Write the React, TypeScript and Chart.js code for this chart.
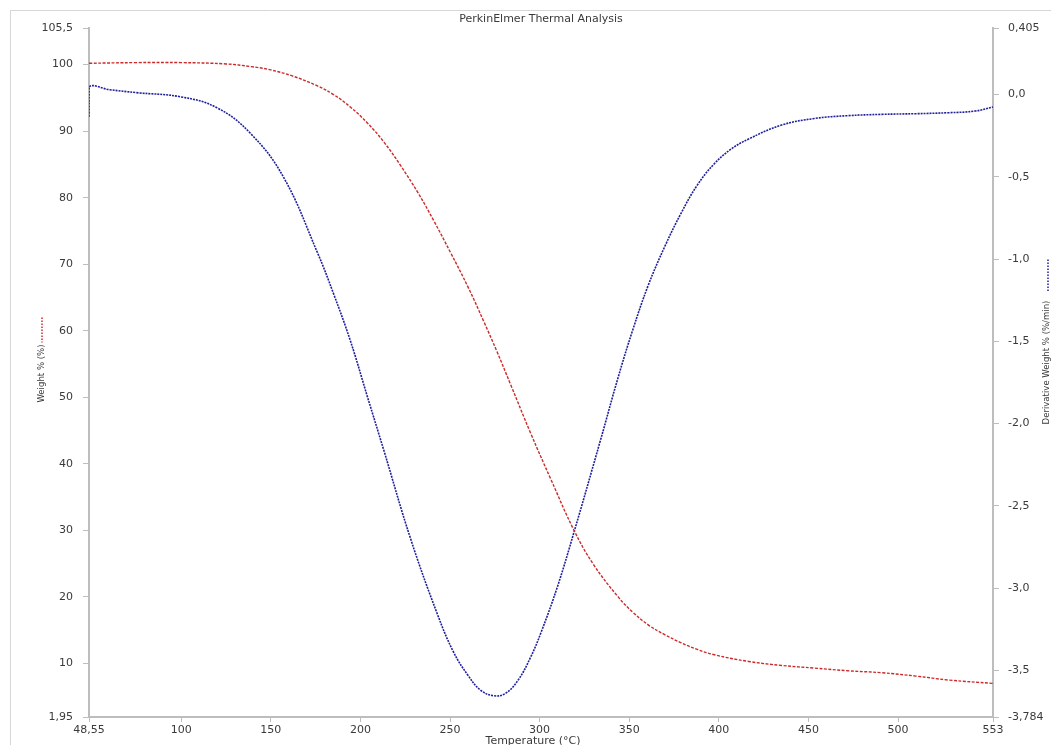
import React, { useEffect, useRef } from "react";
import { Chart, registerables } from "chart.js";

Chart.register(...registerables);

// ---- Data ----
const weightTemps = [48.55, 75, 100, 125, 139, 150, 162, 176, 185, 194.5, 204, 213, 222, 232, 241, 250.4, 260, 269, 276, 284, 295, 306.4, 319.2, 330, 343.8, 352, 360.6, 370, 379, 388, 397.5, 416.6, 435, 453.5, 472, 491, 510, 528.4, 553];
const weightValues = [100.2, 100.3, 100.3, 100.1, 99.7, 99.2, 98.3, 96.8, 95.5, 93.6, 91.2, 88.4, 85.0, 80.8, 76.5, 71.7, 66.6, 61.3, 57.0, 51.8, 44.6, 37.6, 30.0, 24.9, 20.0, 17.7, 15.8, 14.3, 13.1, 12.1, 11.3, 10.3, 9.7, 9.3, 8.9, 8.6, 8.1, 7.5, 7.0];

const derivTemps = [48.55, 48.6, 60, 75, 100, 120, 138.6, 157, 176, 185, 194.5, 204, 213, 228, 243, 252, 260, 267, 274.5, 281, 288, 295, 300.8, 310, 319.2, 334, 343.8, 352, 360.6, 370, 379, 388, 397.5, 407, 416.6, 435, 453.5, 472, 491, 510, 528.4, 543, 553];
const derivValues = [-0.135, 0.045, 0.03, 0.012, -0.014, -0.08, -0.235, -0.50, -0.96, -1.21, -1.50, -1.84, -2.16, -2.70, -3.16, -3.39, -3.53, -3.62, -3.655, -3.64, -3.56, -3.42, -3.27, -2.99, -2.66, -2.10, -1.72, -1.43, -1.16, -0.92, -0.72, -0.55, -0.42, -0.33, -0.27, -0.185, -0.145, -0.128, -0.12, -0.116, -0.11, -0.10, -0.075];

const xTicks = [48.55, 100, 150, 200, 250, 300, 350, 400, 450, 500, 553];
const yLeftTicks = [1.95, 10, 20, 30, 40, 50, 60, 70, 80, 90, 100, 105.5];
const yRightTicks = [-3.784, -3.5, -3.0, -2.5, -2.0, -1.5, -1.0, -0.5, 0.0, 0.405];

const chartTitle = "PerkinElmer Thermal Analysis";
const xTitle = "Temperature (°C)";
const leftTitle = "Weight % (%)";
const rightTitle = "Derivative Weight % (%/min)";

const RED = "#cc2a2a";
const BLUE = "#1f1f9c";
const AXIS = "#bdbdbd";
const TEXT = "#3a3a3a";
const FONT = "'DejaVu Sans', Verdana, sans-serif";
const NARROW = "'DejaVu Sans Condensed', 'Liberation Sans Narrow', sans-serif";

function fmt(v: number, decimalsMin: number): string {
  let s: string;
  const str = String(+v.toFixed(3));
  if (str.includes(".")) s = str;
  else s = decimalsMin > 0 ? v.toFixed(decimalsMin) : str;
  return s.replace(".", ",");
}

const decorPlugin = {
  id: "decor",
  beforeDraw(chart: any) {
    const ctx = chart.ctx;
    ctx.save();
    ctx.strokeStyle = "#d6d6d6";
    ctx.lineWidth = 1;
    ctx.beginPath();
    ctx.moveTo(10.5, chart.height);
    ctx.lineTo(10.5, 10.5);
    ctx.lineTo(chart.width, 10.5);
    ctx.stroke();
    ctx.restore();
  },
  afterDraw(chart: any) {
    const ctx = chart.ctx;
    const a = chart.chartArea;
    const cx = (a.left + a.right) / 2;
    const cy = (a.top + a.bottom) / 2;
    ctx.save();
    ctx.fillStyle = TEXT;
    ctx.textAlign = "center";
    ctx.textBaseline = "middle";
    ctx.font = `11px ${FONT}`;
    ctx.fillText(chartTitle, cx, 19);
    ctx.fillText(xTitle, cx - 8, a.bottom + 24);

    // left axis title with marker
    ctx.save();
    ctx.translate(42, cy + 1);
    ctx.rotate(-Math.PI / 2);
    ctx.font = `9.5px ${NARROW}`;
    ctx.fillText(leftTitle, 0, 0);
    ctx.restore();
    ctx.strokeStyle = RED;
    ctx.lineWidth = 1.5;
    ctx.setLineDash([1.5, 1.5]);
    ctx.beginPath();
    ctx.moveTo(42, cy - 55);
    ctx.lineTo(42, cy - 30);
    ctx.stroke();

    // right axis title with marker
    ctx.save();
    ctx.translate(1047, cy - 10);
    ctx.rotate(-Math.PI / 2);
    ctx.font = `9.5px ${NARROW}`;
    ctx.setLineDash([]);
    ctx.fillText(rightTitle, 0, 0);
    ctx.restore();
    ctx.strokeStyle = BLUE;
    ctx.beginPath();
    ctx.moveTo(1048, cy - 113);
    ctx.lineTo(1048, cy - 80);
    ctx.stroke();
    ctx.restore();
  },
};

export default function App() {
  const ref = useRef<HTMLCanvasElement | null>(null);
  useEffect(() => {
    if (!ref.current) return;
    const tickFont = { family: FONT, size: 11 };
    const chart = new Chart(ref.current, {
      type: "line",
      data: {
        datasets: [
          {
            label: leftTitle,
            data: weightTemps.map((t, i) => ({ x: t, y: weightValues[i] })),
            borderColor: RED,
            borderWidth: 1.4,
            borderDash: [3, 1.5],
            pointRadius: 0,
            tension: 0.4,
            yAxisID: "y",
          },
          {
            label: rightTitle,
            data: derivTemps.map((t, i) => ({ x: t, y: derivValues[i] })),
            borderColor: BLUE,
            borderWidth: 1.6,
            borderDash: [2, 1],
            pointRadius: 0,
            tension: 0.4,
            yAxisID: "y1",
          },
        ],
      },
      options: {
        animation: false,
        responsive: false,
        layout: { padding: { top: 28, left: 0, right: 0, bottom: 0 } },
        plugins: {
          legend: { display: false },
          title: { display: false },
          tooltip: { enabled: false },
        },
        scales: {
          x: {
            type: "linear",
            position: "bottom",
            min: 48.55,
            max: 553,
            afterBuildTicks: (s: any) => {
              s.ticks = xTicks.map((v) => ({ value: v }));
            },
            afterFit: (s: any) => {
              s.height = 28;
            },
            ticks: {
              autoSkip: false,
              maxRotation: 0,
              padding: 2,
              color: TEXT,
              font: tickFont,
              callback: (v: any) => fmt(Number(v), 0),
            },
            grid: { display: true, drawOnChartArea: false, drawTicks: true, tickLength: 5, color: AXIS },
            border: { display: true, color: AXIS, width: 2 },
          },
          y: {
            type: "linear",
            position: "left",
            min: 1.95,
            max: 105.5,
            afterBuildTicks: (s: any) => {
              s.ticks = yLeftTicks.map((v) => ({ value: v }));
            },
            afterFit: (s: any) => {
              s.width = 89;
            },
            ticks: {
              autoSkip: false,
              padding: 10,
              color: TEXT,
              font: tickFont,
              callback: (v: any) => fmt(Number(v), 0),
            },
            grid: { display: true, drawOnChartArea: false, drawTicks: true, tickLength: 6, color: AXIS },
            border: { display: true, color: AXIS, width: 2 },
          },
          y1: {
            type: "linear",
            position: "right",
            min: -3.784,
            max: 0.405,
            afterBuildTicks: (s: any) => {
              s.ticks = yRightTicks.map((v) => ({ value: v }));
            },
            afterFit: (s: any) => {
              s.width = 58;
            },
            ticks: {
              autoSkip: false,
              padding: 9,
              color: TEXT,
              font: tickFont,
              callback: (v: any) => fmt(Number(v), 1),
            },
            grid: { display: true, drawOnChartArea: false, drawTicks: true, tickLength: 6, color: AXIS },
            border: { display: true, color: AXIS, width: 2 },
          },
        },
      } as any,
      plugins: [decorPlugin],
    });
    return () => chart.destroy();
  }, []);

  return (
    <div style={{ position: "fixed", left: 0, top: 0, width: 1051, height: 745, background: "#fff" }}>
      <canvas ref={ref} width={1051} height={745} style={{ display: "block" }} />
    </div>
  );
}
